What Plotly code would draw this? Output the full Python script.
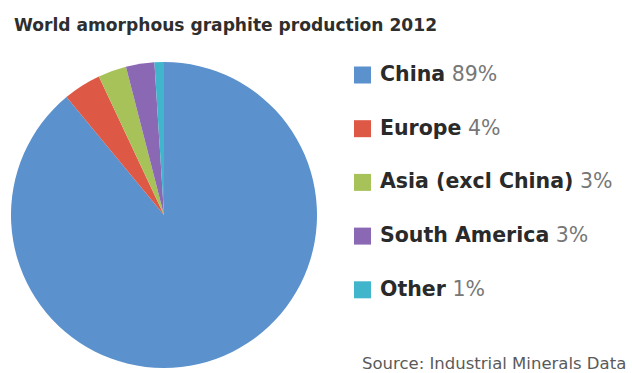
import plotly.graph_objects as go

# Data
regions = ["China", "Europe", "Asia (excl China)", "South America", "Other"]
shares = [89, 4, 3, 3, 1]
colors = ["#5b91cd", "#de5846", "#a8c25a", "#8b68b4", "#41b5cb"]

title_text = "World amorphous graphite production 2012"
source_text = "Source: Industrial Minerals Data"

W, H = 632, 373
cx, cy, r = 164, 215, 153
FONT = "DejaVu Sans"

fig = go.Figure()
fig.add_trace(go.Pie(
    labels=regions,
    values=shares,
    sort=False,
    direction="clockwise",
    rotation=0,
    marker=dict(colors=colors, line=dict(width=0)),
    textinfo="none",
    hoverinfo="label+percent",
    showlegend=False,
    domain=dict(x=[(cx - r) / W, (cx + r) / W], y=[1 - (cy + r) / H, 1 - (cy - r) / H]),
))

annotations = [
    dict(text="<b>" + title_text + "</b>", x=12 / W, y=1 - 25 / H, xref="paper", yref="paper",
         xanchor="left", yanchor="middle", showarrow=False,
         font=dict(family=FONT, size=17.1, color="#2e2e2e")),
    dict(text=source_text, x=628 / W, y=1 - 363 / H, xref="paper", yref="paper",
         xanchor="right", yanchor="middle", showarrow=False,
         font=dict(family=FONT, size=16.5, color="#5a5a5a")),
]
shapes = []
row0, gap = 74, 53.7
sw = 17
for i, (name, val, col) in enumerate(zip(regions, shares, colors)):
    yc = row0 + i * gap
    shapes.append(dict(type="rect", xref="paper", yref="paper",
                       x0=354 / W, x1=(354 + sw) / W,
                       y0=1 - (yc + 1 + sw / 2) / H, y1=1 - (yc + 1 - sw / 2) / H,
                       fillcolor=col, line=dict(width=0)))
    annotations.append(dict(
        text="<b>" + name + "</b> <span style='color:#777777'>" + str(val) + "%</span>",
        x=378 / W, y=1 - yc / H, xref="paper", yref="paper",
        xanchor="left", yanchor="middle", showarrow=False,
        font=dict(family=FONT, size=20.5, color="#2a2a2a")))

fig.update_layout(
    width=W, height=H,
    margin=dict(l=0, r=0, t=0, b=0),
    paper_bgcolor="white", plot_bgcolor="white",
    annotations=annotations, shapes=shapes,
)
fig.write_html("out.html", config={"displayModeBar": False},
               post_script="document.body.style.margin='0px';document.body.style.overflow='hidden';")
